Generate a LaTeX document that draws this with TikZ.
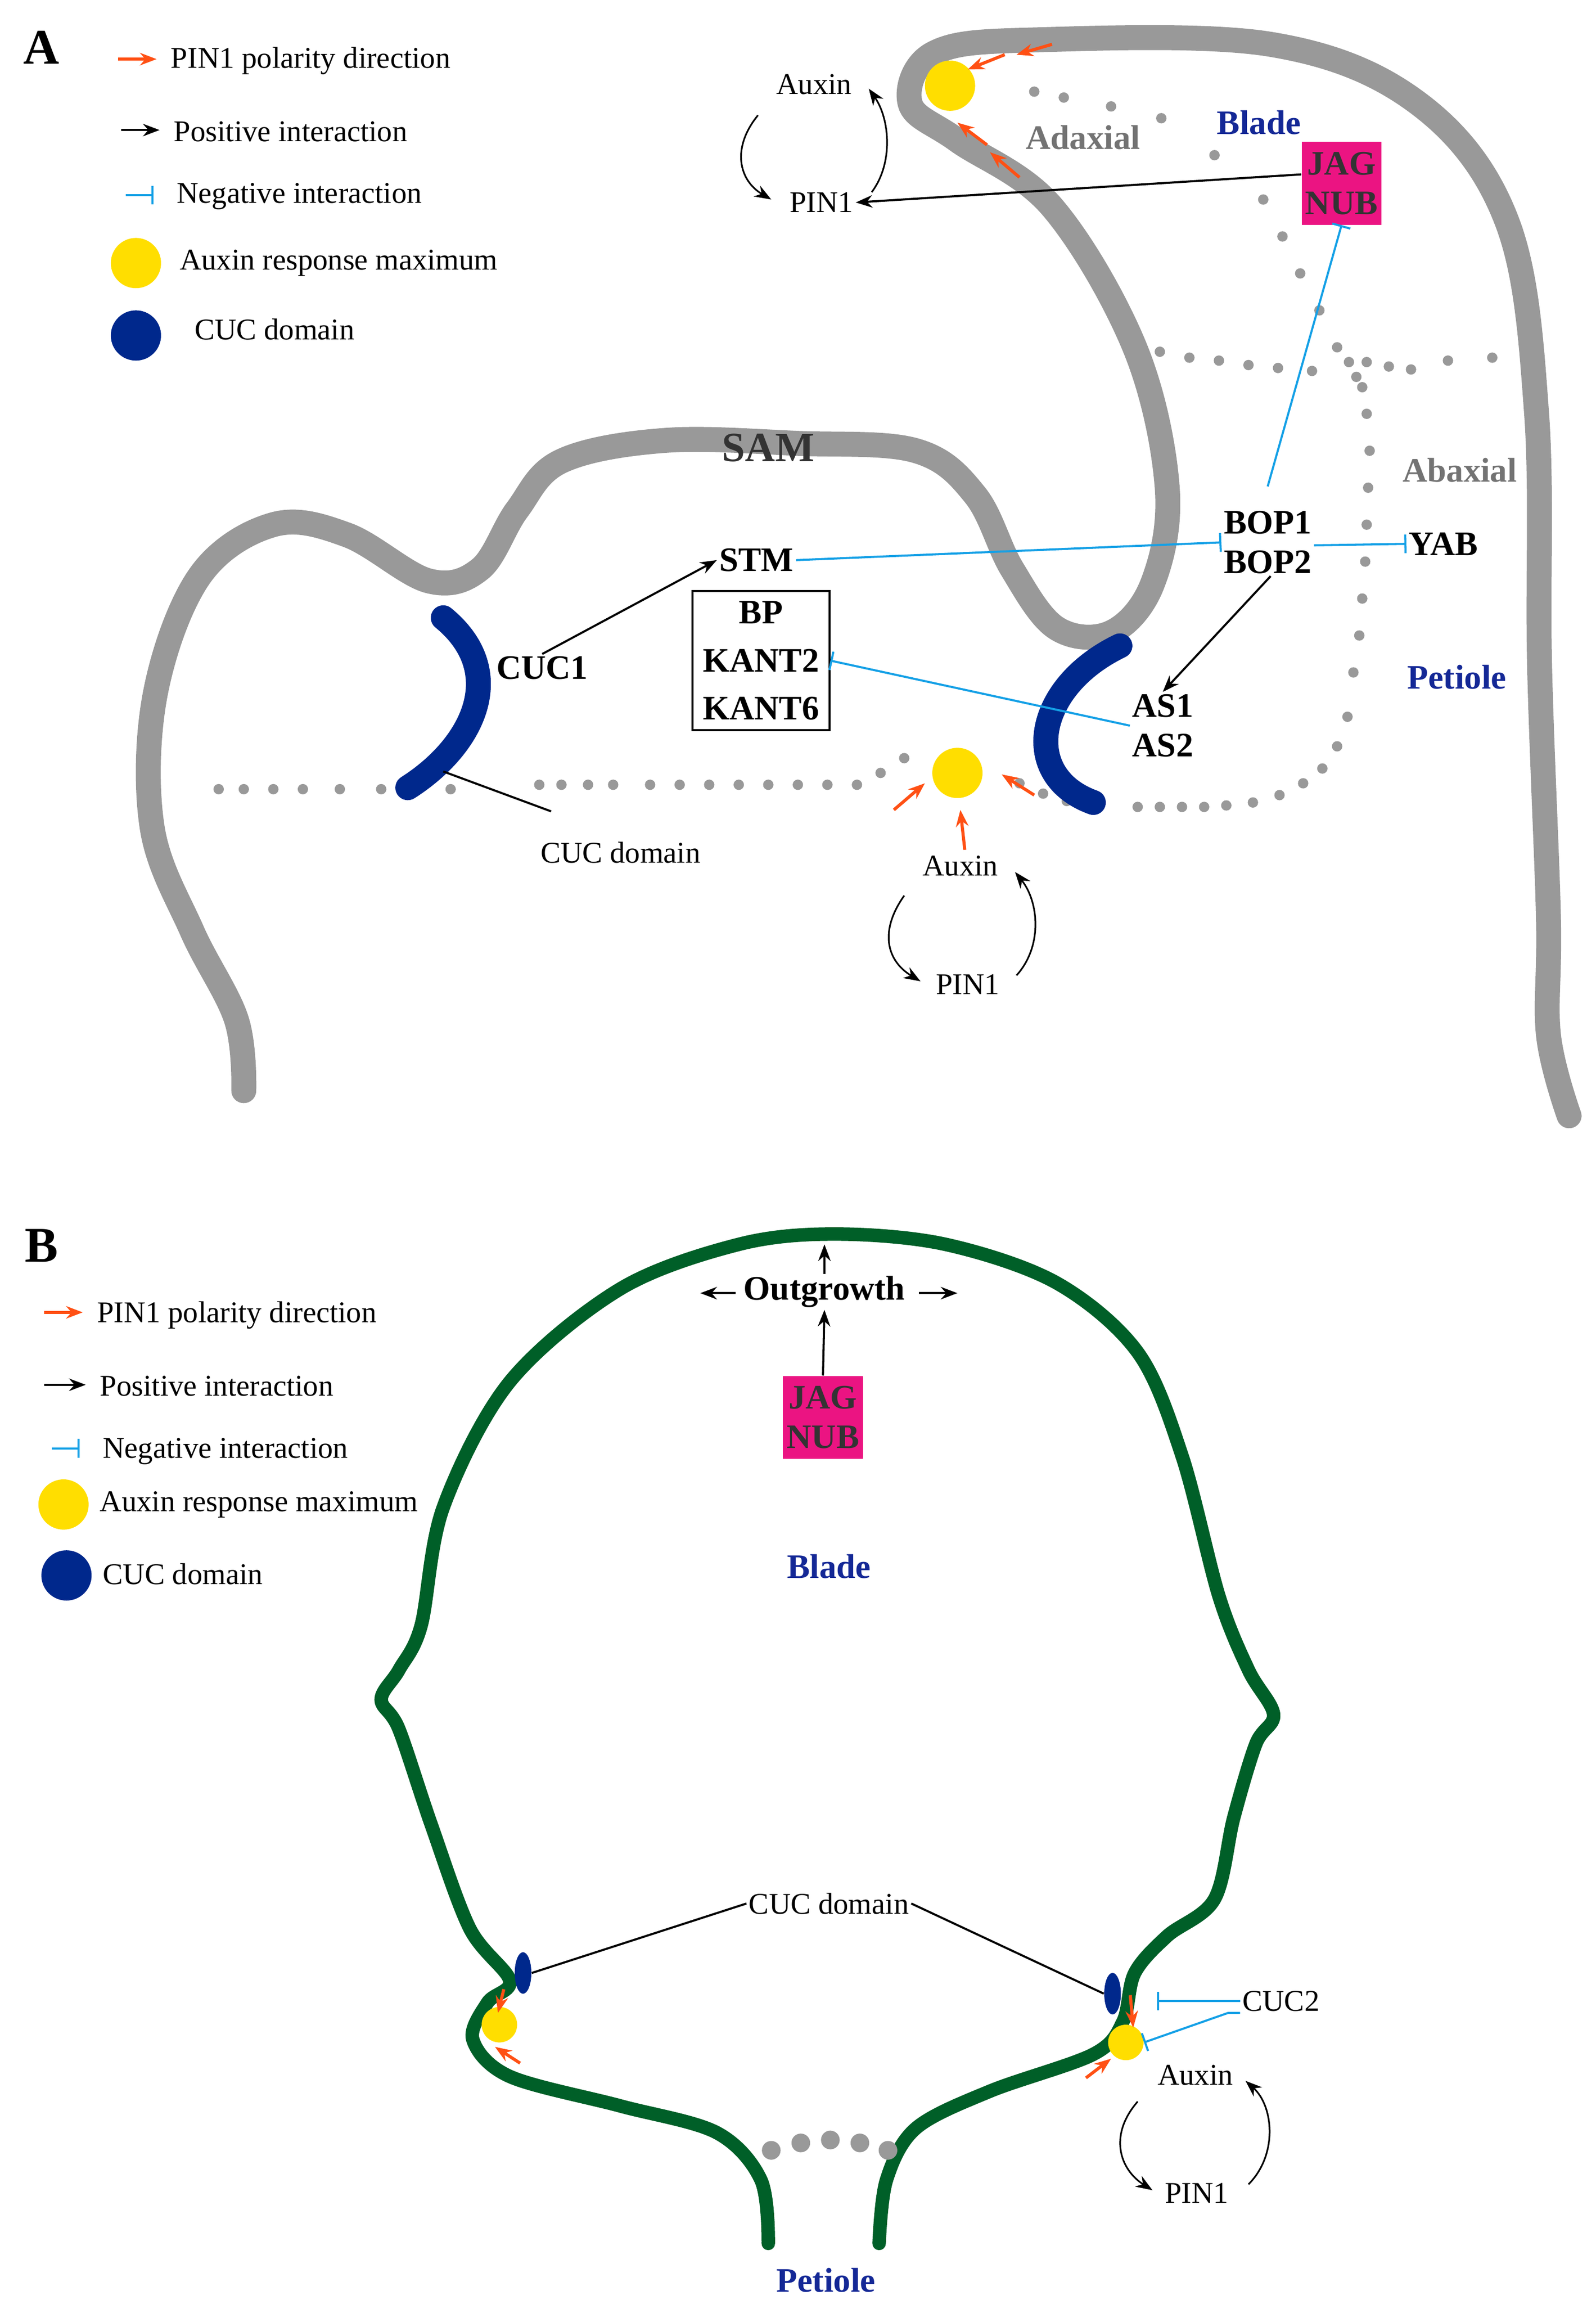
\documentclass[tikz,border=0pt]{standalone}
\usepackage{fontspec}
\setmainfont{Liberation Serif}
\usetikzlibrary{arrows.meta,positioning,shapes.geometric}
\definecolor{pinorange}{RGB}{255,80,20}
\definecolor{negcyan}{RGB}{20,160,230}
\definecolor{auxyellow}{RGB}{255,222,0}
\definecolor{cucblue}{RGB}{0,40,140}
\definecolor{jagpink}{RGB}{235,20,130}
\definecolor{leafgreen}{RGB}{0,95,40}
\definecolor{labelblue}{RGB}{20,40,150}
\tikzset{
  txt/.style={font=\fontsize{14.5}{17}\selectfont, inner sep=1pt},
  btxt/.style={font=\fontsize{16.5}{19}\selectfont\bfseries, inner sep=1pt},
  posint/.style={-{Stealth[length=8pt,width=6pt]}, line width=1pt},
  pin/.style={-{Stealth[length=8pt,width=6pt]}, line width=1.5pt, pinorange},
  neg/.style={-{Bar[width=9pt]}, line width=1pt, negcyan},
  gray outline/.style={line width=12pt, gray!80, line cap=round},
  green outline/.style={line width=6.5pt, leafgreen, line cap=round},
  cuc/.style={line width=12pt, cucblue, line cap=round},
  auxmax/.style={circle, fill=auxyellow, inner sep=0pt, minimum size=#1},
  jag/.style={fill=jagpink, btxt, text=black!80, align=center, minimum width=1.35cm, minimum height=1.4cm},
  dot/.style={circle, fill=gray!80, inner sep=0pt, minimum size=5pt},
}
\begin{document}
\begin{tikzpicture}[x=0.025cm, y=-0.025cm]
    \useasboundingbox (0,0) rectangle (1080,1559);
    % panel A
    \node [font=\fontsize{24}{28}\selectfont\bfseries] (la) at (28,32) {A};
    \coordinate (a1) at (80,40); \coordinate (a2) at (106,40);
    \draw [pin] (a1) -- (a2);
    \node [txt, anchor=west] at (114,41) {PIN1 polarity direction};
    \coordinate (b1) at (82,88); \coordinate (b2) at (108,88);
    \draw [posint] (b1) -- (b2);
    \node [txt, anchor=west] at (116,89) {Positive interaction};
    \coordinate (c1) at (85,132); \coordinate (c2) at (104,132);
    \draw [neg] (c1) -- (c2);
    \node [txt, anchor=west] at (118,133) {Negative interaction};
    \node [auxmax=0.85cm] at (92,178) {};
    \node [txt, anchor=west] at (120,178) {Auxin response maximum};
    \node [circle, fill=cucblue, minimum size=0.85cm, inner sep=0pt] at (92,227) {};
    \node [txt, anchor=west] at (130,223) {CUC domain};

    % outline
    \draw [gray outline] plot [smooth, tension=0.6] coordinates {(165,738) (160,690) (130,630) (103,560) (105,470) (135,390) (185,355) (235,362) (290,393) (325,385) (350,345) (380,312) (450,298) (540,300) (620,305) (660,335) (685,385) (715,425) (752,428) (780,395) (790,330) (768,235) (712,140) (648,95) (616,70) (632,36) (700,27) (860,30) (960,70) (1020,150) (1040,280) (1042,450) (1048,620) (1048,700) (1062,755)};
    % dotted lines
    \foreach \x in {148,165,185,205,230,258,280,305}
        \node [dot] at (\x,534) {};
    \foreach \x in {365,380,398,415,440,460,480,500,520,540,560,580}
        \node [dot] at (\x,531) {};
    \foreach \p in {(596,523),(612,513),(690,530),(706,537),(722,542),(770,546),(785,546),(800,546),(815,546),(830,545),(848,543),(866,538),(882,530),(895,520),(905,505),(912,485),(916,455),(920,430),(922,405),(924,380),(925,355),(926,330),(927,305),(925,280),(922,262),(913,245)}
        \node [dot] at \p {};
    \foreach \p in {(700,62),(720,66),(752,72),(786,80),(822,105),(855,135),(868,160),(880,185),(893,210),(905,235),(918,255),(925,245),(940,248),(955,250),(980,244),(1010,242),(785,238),(805,242),(825,244),(845,247),(865,249),(888,251)}
        \node [dot] at \p {};
    % CUC domains
    \draw [cuc] (300,418) .. controls (345,455) and (320,505) .. (276,533);
    \draw [cuc] (758,437) .. controls (700,465) and (690,525) .. (740,543);
    % auxin maxima
    \node [auxmax=0.85cm] (maxtop) at (643,58) {};
    \node [auxmax=0.85cm] (maxbot) at (648,523) {};
    \coordinate (o1) at (712,30); \coordinate (o2) at (688,37);
    \coordinate (o3) at (680,37); \coordinate (o4) at (655,47);
    \coordinate (o5) at (690,120); \coordinate (o6) at (670,103);
    \coordinate (o7) at (668,98); \coordinate (o8) at (648,83);
    \draw [pin] (o1) -- (o2);
    \draw [pin] (o3) -- (o4);
    \draw [pin] (o5) -- (o6);
    \draw [pin] (o7) -- (o8);
    \coordinate (o9) at (605,548); \coordinate (o10) at (626,530);
    \coordinate (o11) at (653,575); \coordinate (o12) at (650,548);
    \coordinate (o13) at (700,538); \coordinate (o14) at (678,524);
    \draw [pin] (o9) -- (o10);
    \draw [pin] (o11) -- (o12);
    \draw [pin] (o13) -- (o14);
    % top auxin loop
    \node [txt] (auxt) at (551,57) {Auxin};
    \node [txt] (pint) at (556,137) {PIN1};
    \coordinate (l1) at (513,78); \coordinate (l2) at (522,135);
    \coordinate (l3) at (590,130); \coordinate (l4) at (588,60);
    \draw [posint, line width=0.8pt] (l1) .. controls (495,100) and (500,122) .. (l2);
    \draw [posint, line width=0.8pt] (l3) .. controls (605,110) and (602,80) .. (l4);
    % labels
    \node [btxt, text=gray!90!black] at (733,93) {Adaxial};
    \node [btxt, text=labelblue] at (852,83) {Blade};
    \node [jag] (jagA) at (908,124) {JAG\\NUB};
    \node [btxt, font=\fontsize{20}{24}\selectfont\bfseries, text=black!80] at (520,303) {SAM};
    \node [btxt, text=gray!90!black] at (988,318) {Abaxial};
    \node [btxt, align=center] (bop) at (858,367) {BOP1\\BOP2};
    \node [btxt] (yab) at (977,368) {YAB};
    \node [btxt] (stm) at (512,379) {STM};
    \node [btxt] (cuc1) at (367,452) {CUC1};
    \node [btxt, draw, line width=1pt, align=center, inner sep=5pt] (bp) at (515,447) {BP\\[4pt]KANT2\\[4pt]KANT6};
    \node [btxt, align=center] (as) at (787,491) {AS1\\AS2};
    \node [btxt, text=labelblue] at (986,458) {Petiole};
    \node [txt] (cucdA) at (420,577) {CUC domain};
    \draw [posint] (jagA.west) ++(0,-6) -- (pint.east);
    \draw [neg] (bop.north) ++(0,-15) -- (jagA.south);
    \draw [neg] (bop.east) ++(0,2) -- (yab.west);
    \draw [neg] (stm.east) -- (bop.west);
    \draw [posint] (cuc1.north) -- (stm.west);
    \draw [neg] (as.west) -- (bp.east);
    \draw [posint] (bop.south) ++(2,0) -- (as.north);
    \coordinate (cucA) at (300,522);
    \coordinate (cucAl) at (373,549);
    \draw [line width=1pt] (cucAl) -- (cucA);
    % bottom auxin loop
    \node [txt] (auxb) at (650,586) {Auxin};
    \node [txt] (pinb) at (655,666) {PIN1};
    \coordinate (l5) at (612,606); \coordinate (l6) at (623,664);
    \coordinate (l7) at (688,660); \coordinate (l8) at (687,590);
    \draw [posint, line width=0.8pt] (l5) .. controls (595,630) and (600,650) .. (l6);
    \draw [posint, line width=0.8pt] (l7) .. controls (706,640) and (703,610) .. (l8);

    % panel B
    \node [font=\fontsize{24}{28}\selectfont\bfseries] (lb) at (28,843) {B};
    \coordinate (d1) at (30,888); \coordinate (d2) at (56,888);
    \draw [pin] (d1) -- (d2);
    \node [txt, anchor=west] at (64,890) {PIN1 polarity direction};
    \coordinate (e1) at (30,937); \coordinate (e2) at (58,937);
    \draw [posint] (e1) -- (e2);
    \node [txt, anchor=west] at (66,938) {Positive interaction};
    \coordinate (f1) at (35,980); \coordinate (f2) at (54,980);
    \draw [neg] (f1) -- (f2);
    \node [txt, anchor=west] at (68,982) {Negative interaction};
    \node [auxmax=0.85cm] at (43,1018) {};
    \node [txt, anchor=west] at (66,1018) {Auxin response maximum};
    \node [circle, fill=cucblue, minimum size=0.85cm, inner sep=0pt] at (45,1066) {};
    \node [txt, anchor=west] at (68,1065) {CUC domain};
    % leaf outline
    \draw [green outline] plot [smooth, tension=0.55] coordinates {(520,1518) (515,1475) (485,1443) (420,1425) (345,1405) (320,1380) (330,1355) (345,1340) (318,1305) (292,1235) (270,1170) (258,1150) (270,1130) (285,1100) (300,1020) (345,935) (420,872) (500,842) (565,835) (640,842) (715,868) (770,915) (800,985) (825,1080) (845,1130) (862,1160) (850,1180) (835,1230) (822,1285) (790,1310) (768,1335) (760,1368) (740,1390) (670,1415) (620,1440) (600,1475) (595,1518)};
    \foreach \x/\y in {522/1455,542/1450,562/1448,582/1450,601/1455}
        \node [circle, fill=gray!80, inner sep=0pt, minimum size=9pt] at (\x,\y) {};
    \node [btxt] (outg) at (558,874) {Outgrowth};
    \node [jag] (jagB) at (557,959) {JAG\\NUB};
    \coordinate (g1) at (498,875); \coordinate (g2) at (474,875);
    \coordinate (g3) at (622,875); \coordinate (g4) at (648,875);
    \coordinate (g5) at (558,862); \coordinate (g6) at (558,842);
    \draw [posint] (g1) -- (g2);
    \draw [posint] (g3) -- (g4);
    \draw [posint] (g5) -- (g6);
    \draw [posint] (jagB.north) -- (outg.south);
    \node [btxt, text=labelblue] at (561,1060) {Blade};
    \node [btxt, text=labelblue] at (559,1543) {Petiole};
    % CUC domains and maxima
    \node [ellipse, fill=cucblue, minimum width=8pt, minimum height=20pt, inner sep=0pt] (cucl) at (354,1335) {};
    \node [ellipse, fill=cucblue, minimum width=8pt, minimum height=20pt, inner sep=0pt] (cucr) at (753,1349) {};
    \node [auxmax=0.6cm] (maxl) at (338,1370) {};
    \node [auxmax=0.6cm] (maxr) at (762,1382) {};
    \coordinate (h1) at (341,1346); \coordinate (h2) at (337,1362);
    \coordinate (h3) at (352,1396); \coordinate (h4) at (335,1385);
    \coordinate (h5) at (765,1350); \coordinate (h6) at (767,1372);
    \coordinate (h7) at (735,1406); \coordinate (h8) at (752,1393);
    \draw [pin] (h1) -- (h2);
    \draw [pin] (h3) -- (h4);
    \draw [pin] (h5) -- (h6);
    \draw [pin] (h7) -- (h8);
    \node [txt] (cucdB) at (561,1288) {CUC domain};
    \draw [line width=1pt] (cucdB.west) -- (cucl.east);
    \draw [line width=1pt] (cucdB.east) -- (cucr.west);
    \node [txt] (cuc2) at (867,1354) {CUC2};
    \draw [neg] (cuc2.west) -- ++(-56,0);
    \draw [neg] (cuc2.west) ++(0,8) -- ++(-8,0) -- (maxr.east);
    \node [txt] (auxB) at (809,1404) {Auxin};
    \node [txt] (pinB) at (810,1484) {PIN1};
    \coordinate (l9) at (770,1422); \coordinate (l10) at (780,1482);
    \coordinate (l11) at (845,1478); \coordinate (l12) at (843,1408);
    \draw [posint, line width=0.8pt] (l9) .. controls (750,1445) and (758,1468) .. (l10);
    \draw [posint, line width=0.8pt] (l11) .. controls (865,1458) and (862,1425) .. (l12);
\end{tikzpicture}
\end{document}
